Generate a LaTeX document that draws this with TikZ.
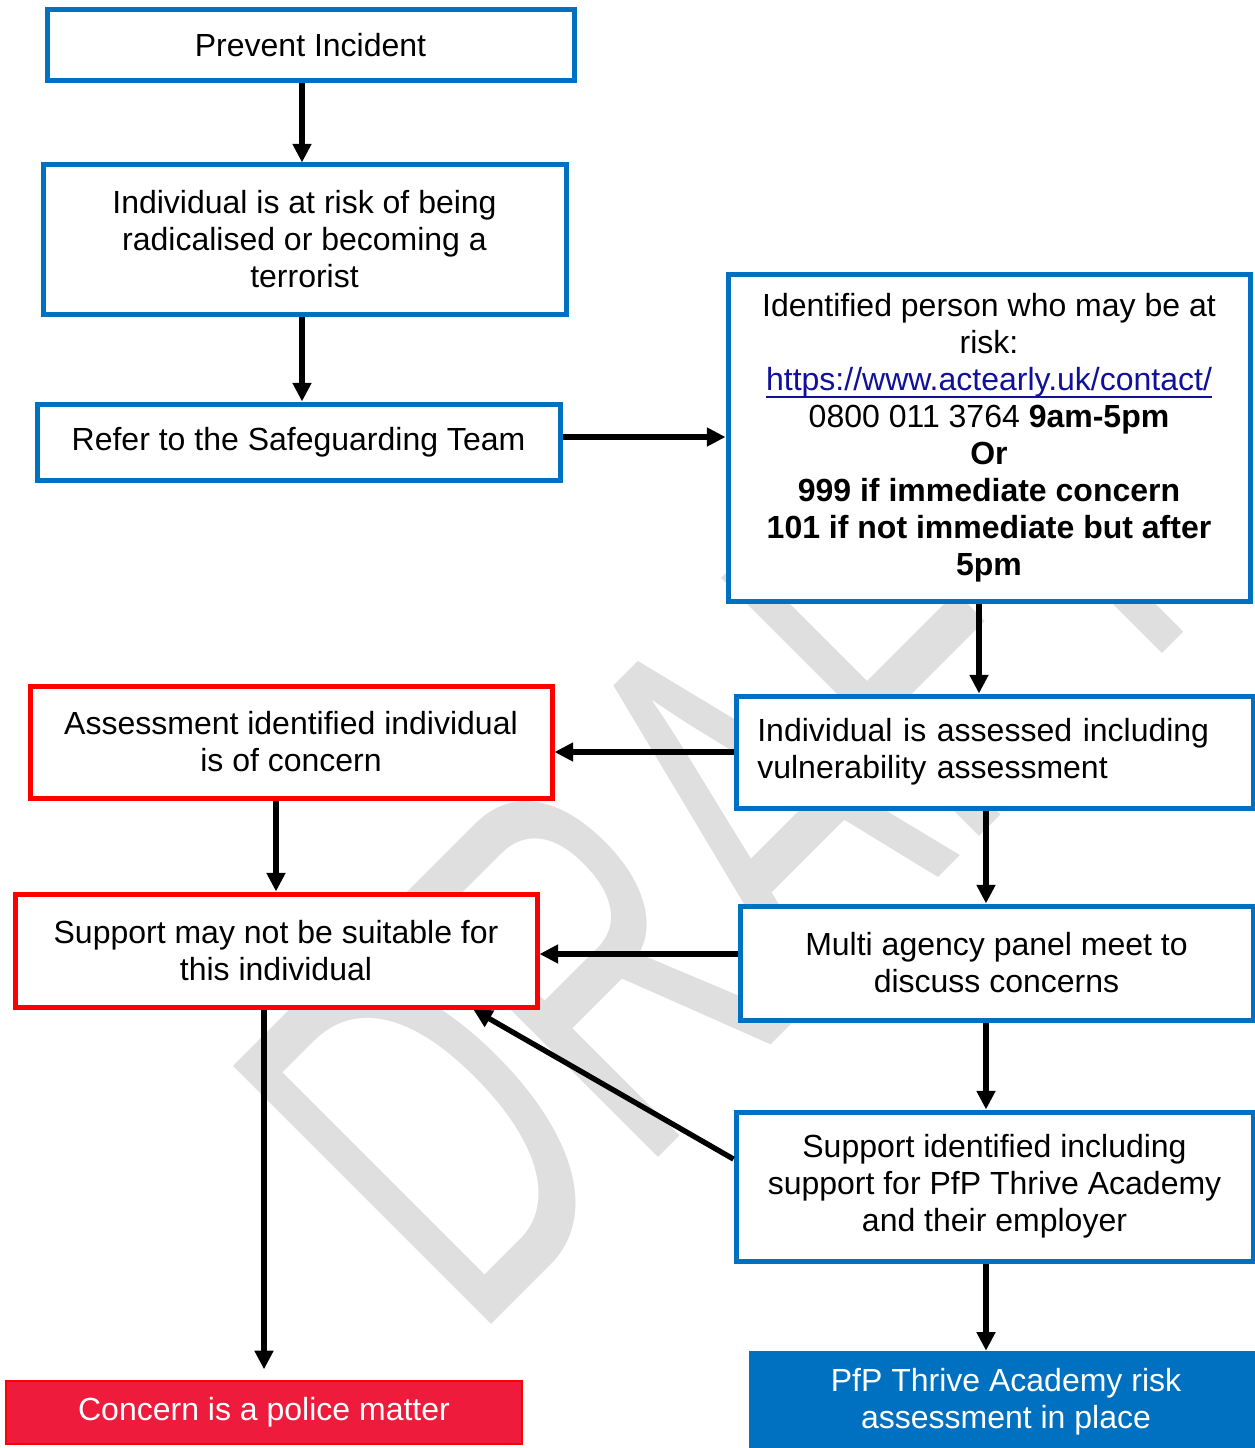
\documentclass[tikz,border=0pt]{standalone}
\usepackage{fontspec}
\setmainfont{Liberation Sans}
\usetikzlibrary{arrows.meta}
\newcommand\weblink[1]{\setbox0\hbox{#1}\rlap{\usebox0}\rule[-6pt]{\wd0}{1.8pt}}
\begin{document}
\begin{tikzpicture}[x=0.75pt, y=-0.75pt,
  every node/.style={font=\fontsize{24}{27.75}\selectfont, inner sep=0pt},
  bluebox/.style={draw=pfpblue, line width=3.75pt, fill=white, align=center},
  redbox/.style={draw=pfpred, line width=3.75pt, fill=white, align=center},
  arr/.style={line width=4pt, -{Triangle[length=14pt, width=13.5pt]}}]
\definecolor{pfpblue}{HTML}{0070C0}
\definecolor{pfpred}{HTML}{FF0000}
\definecolor{policered}{HTML}{EE1B3C}
\definecolor{linkblue}{HTML}{10109A}
\definecolor{wmgray}{HTML}{DFDFDF}
\useasboundingbox (0,0) rectangle (1255,1448);
% watermark
\node[rotate=45, text=wmgray, font=\fontsize{398}{398}\selectfont] (draft) at (729,829) {\scalebox{0.617}[1]{DRAFT}};
% left column
\node[bluebox, minimum width=395.25pt, minimum height=53.25pt] (prevent) at (310.5,45.5) {Prevent Incident};
\node[bluebox, minimum width=392.25pt, minimum height=111.75pt] (risk) at (304.5,239.5) {Individual is at risk of being\\ radicalised or becoming a\\ terrorist};
\node[bluebox, minimum width=392.25pt, minimum height=57pt] (refer) at (298.5,442) {Refer to the Safeguarding Team};
\node[redbox, minimum width=391.5pt, minimum height=84pt] (ofconcern) at (291,742) {Assessment identified individual\\ is of concern};
\node[redbox, minimum width=391.5pt, minimum height=84.75pt] (nosup) at (276,950.5) {Support may not be suitable for\\ this individual};
\node[draw=pfpred, line width=1.5pt, fill=policered, text=white, minimum width=387pt, minimum height=47.25pt] (police) at (264,1412.5) {Concern is a police matter};
% right column
\node[bluebox, minimum width=391.5pt, minimum height=245.25pt] (ident) at (989,437.5) {Identified person who may be at\\ risk:\\ {\color{linkblue}\weblink{https://www.actearly.uk/contact/}}\\ 0800 011 3764 \textbf{9am-5pm}\\ \textbf{Or}\\ \textbf{999 if immediate concern}\\ \textbf{101 if not immediate but after}\\ \textbf{5pm}};
\node[bluebox, align=left, inner xsep=16pt, text width=355.75pt, minimum height=84pt] (assess) at (994.5,752) {Individual is assessed including\\ vulnerability assessment};
\node[bluebox, minimum width=384.75pt, minimum height=85.5pt] (multi) at (996.5,963) {Multi agency panel meet to\\ discuss concerns};
\node[bluebox, minimum width=387.75pt, minimum height=111.75pt] (supid) at (994.5,1186.5) {Support identified including\\ support for PfP Thrive Academy\\ and their employer};
\node[fill=pfpblue, text=white, align=center, minimum width=385.5pt, minimum height=76.5pt] (pfp) at (1006,1402) {PfP Thrive Academy risk\\ assessment in place};
% connectors
\coordinate (lspine) at (302,0);
\coordinate (rspine) at (986,0);
\draw[arr] (prevent.south -| lspine) -- (risk.north -| lspine);
\draw[arr] (risk.south -| lspine) -- (refer.north -| lspine);
\draw[arr] ([yshift=3.75pt]refer.east) -- ([yshift=3.75pt]refer.east -| ident.west);
\draw[arr] ([xshift=-7.5pt]ident.south) -- ([xshift=-7.5pt]ident.south |- assess.north);
\draw[arr] (assess.west) -- (assess.west -| ofconcern.east);
\draw[arr] (ofconcern.south -| nosup.north) -- (nosup.north);
\draw[arr] (assess.south -| rspine) -- (multi.north -| rspine);
\draw[arr] ([yshift=6.75pt]multi.west) -- ([yshift=6.75pt]multi.west -| nosup.east);
\draw[arr] (multi.south -| rspine) -- (supid.north -| rspine);
\draw[arr] (supid.174) -- ([xshift=148pt]nosup.south);
\draw[arr, shorten >=8pt] (nosup.south -| police.north) -- (police.north);
\draw[arr] (supid.south -| rspine) -- (pfp.north -| rspine);
\end{tikzpicture}
\end{document}
